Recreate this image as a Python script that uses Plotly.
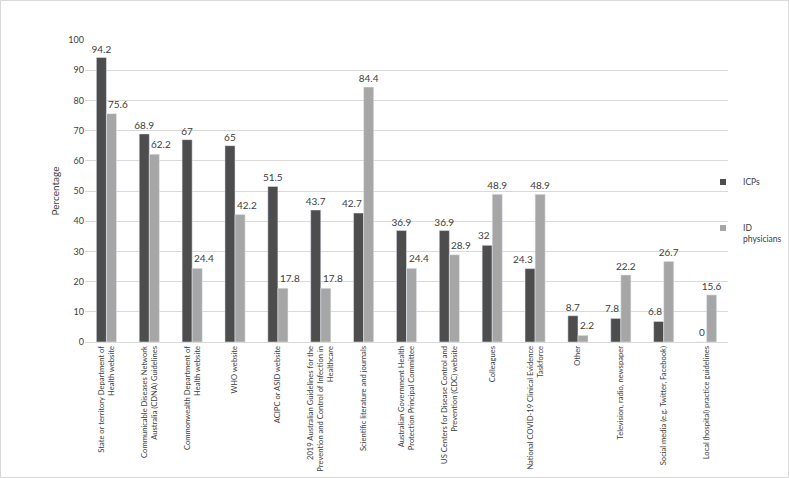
import plotly.graph_objects as go

categories = [
    "State or territory Department of<br>Health website",
    "Communicable Diseases Network<br>Australia (CDNA) Guidelines",
    "Commonwealth Department of<br>Health website",
    "WHO website",
    "ACIPC or ASID website",
    "2019 Australian Guidelines for the<br>Prevention and Control of Infection in<br>Healthcare",
    "Scientific literature and journals",
    "Australian Government Health<br>Protection Principal Committee",
    "US Centers for Disease Control and<br>Prevention (CDC) website",
    "Colleagues",
    "National COVID-19 Clinical Evidence<br>Taskforce",
    "Other",
    "Television, radio, newspaper",
    "Social media (e.g. Twitter, Facebook)",
    "Local (hospital) practice guidelines",
]
icps = [94.2, 68.9, 67, 65, 51.5, 43.7, 42.7, 36.9, 36.9, 32, 24.3, 8.7, 7.8, 6.8, 0]
id_phys = [75.6, 62.2, 24.4, 42.2, 17.8, 17.8, 84.4, 24.4, 28.9, 48.9, 48.9, 2.2, 22.2, 26.7, 15.6]
y_ticks = [0, 10, 20, 30, 40, 50, 60, 70, 80, 90, 100]

W, H = 789, 478
ML, MR, MT, MB = 85, 61, 40, 136
pw = W - ML - MR
ph = H - MT - MB

FONT = "Lato"
TXT = "#404040"
DARK = "#4d4d4d"
LIGHT = "#a6a6a6"


def lbl():
    return dict(size=10, color=TXT, family=FONT)


fig = go.Figure()
fig.add_trace(go.Bar(x=categories, y=icps, name="ICPs", marker_color=DARK,
                     offsetgroup="a", showlegend=False, hoverinfo="x+y"))
fig.add_trace(go.Bar(x=categories, y=id_phys, name="ID physicians", marker_color=LIGHT,
                     offsetgroup="b", showlegend=False, hoverinfo="x+y"))

# Value labels: centred above the bar unless the neighbouring bar is taller,
# in which case the label is pushed off that bar (as in the original Excel chart).
icp_centered = [f"{a:g}" if a >= b else "" for a, b in zip(icps, id_phys)]
id_centered = [f"{b:g}" if b >= a else "" for a, b in zip(icps, id_phys)]
for vals, txt, grp in ((icps, icp_centered, "a"), (id_phys, id_centered, "b")):
    fig.add_trace(go.Bar(
        x=categories, y=vals, offsetgroup=grp, showlegend=False,
        marker=dict(color="rgba(0,0,0,0)", line=dict(width=0)),
        text=txt, textposition="outside", constraintext="none",
        textfont=lbl(), cliponaxis=False, hoverinfo="skip",
    ))
for c, a, b in zip(categories, icps, id_phys):
    if a < b:
        fig.add_annotation(x=c, y=a, text=f"{a:g}", showarrow=False, xanchor="right",
                           yanchor="bottom", yshift=2, font=lbl())
    elif b < a:
        fig.add_annotation(x=c, y=b, text=f"{b:g}", showarrow=False, xanchor="left",
                           yanchor="bottom", yshift=2, font=lbl())

# legend entries (small square swatches like the original)
fig.add_trace(go.Scatter(x=[None], y=[None], mode="markers", name="ICPs",
                         marker=dict(symbol="square", size=6, color=DARK),
                         legend="legend", showlegend=True))
fig.add_trace(go.Scatter(x=[None], y=[None], mode="markers", name="ID<br>physicians",
                         marker=dict(symbol="square", size=6, color=LIGHT),
                         legend="legend2", showlegend=True))

LX = (703 - ML) / pw
fig.update_layout(
    width=W, height=H,
    margin=dict(l=ML, r=MR, t=MT, b=MB, autoexpand=False),
    paper_bgcolor="white", plot_bgcolor="white",
    font=dict(family=FONT, color=TXT, size=10),
    barmode="group", bargap=0.53, bargroupgap=0,
    showlegend=True,
    legend=dict(x=LX, y=(342 - 182) / ph, xanchor="left", yanchor="middle",
                font=dict(size=8.5, family=FONT, color=TXT), bgcolor="rgba(0,0,0,0)"),
    legend2=dict(x=LX, y=(342 - 234) / ph, xanchor="left", yanchor="middle", valign="top",
                 font=dict(size=8.5, family=FONT, color=TXT), bgcolor="rgba(0,0,0,0)"),
)
fig.update_xaxes(
    tickangle=-90, tickfont=dict(size=7.6, family=FONT, color=TXT),
    showline=True, linecolor="#d9d9d9", linewidth=1, ticks="",
    showgrid=False, automargin=False,
)
fig.update_yaxes(
    range=[0, 100], tickvals=y_ticks, showgrid=True, gridcolor="#d9d9d9",
    zeroline=False, showline=False, ticks="", automargin=False,
    tickfont=dict(size=9, family=FONT, color=TXT),
    title=dict(text="Percentage", font=dict(size=10, family=FONT, color=TXT), standoff=6),
)
# outer border of chart
fig.add_shape(type="rect", xref="paper", yref="paper",
              x0=(0.5 - ML) / pw, x1=(W - 0.5 - ML) / pw,
              y0=-(MB - 0.5) / ph, y1=1 + (MT - 0.5) / ph,
              line=dict(color="#d9d9d9", width=1), fillcolor="rgba(0,0,0,0)", layer="below")

fig.write_html("out.html", config={"displayModeBar": False},
               post_script="document.body.style.margin='0px';")
